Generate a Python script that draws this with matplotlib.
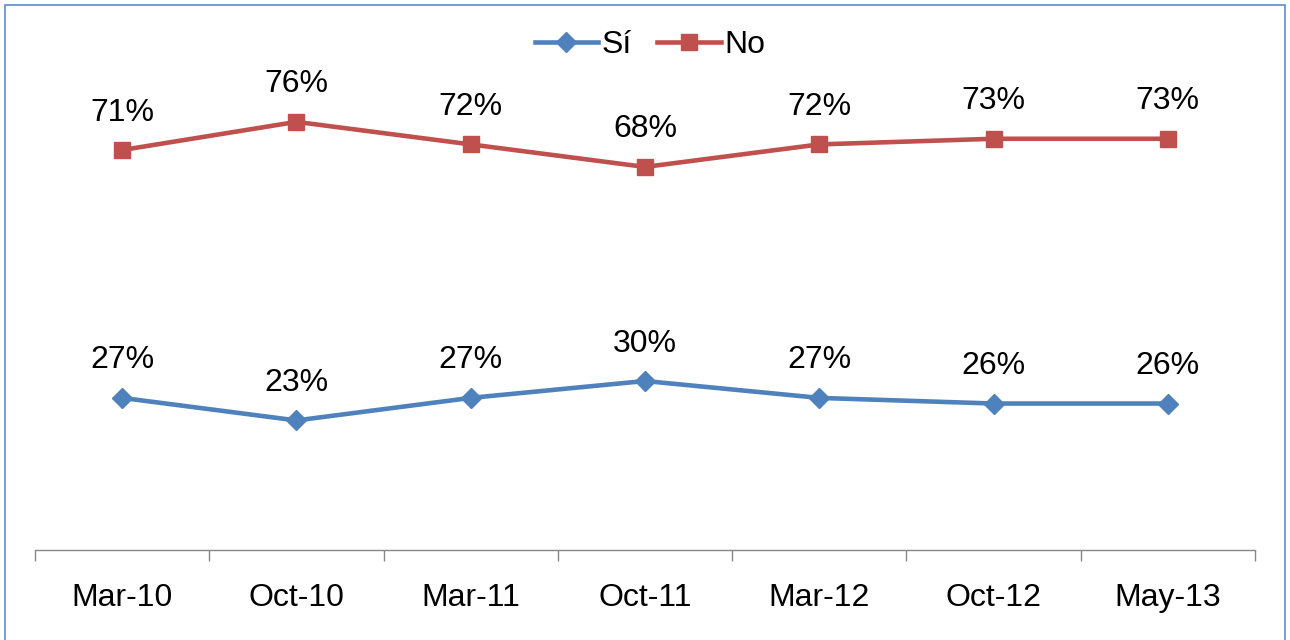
import matplotlib
matplotlib.use("Agg")
import matplotlib.pyplot as plt
from matplotlib.patches import Rectangle
from matplotlib.ticker import FixedLocator

plt.rcParams['font.family'] = ['Liberation Sans', 'DejaVu Sans']

# data
periods = ["Mar-10", "Oct-10", "Mar-11", "Oct-11", "Mar-12", "Oct-12", "May-13"]
si_values = [0.27, 0.23, 0.27, 0.30, 0.27, 0.26, 0.26]
no_values = [0.71, 0.76, 0.72, 0.68, 0.72, 0.73, 0.73]

blue = "#4F81BD"
red = "#C0504D"

fig = plt.figure(figsize=(12.9, 6.4), dpi=100)
W, H = 1290, 640
# axes placed in pixel terms: x axis from 35 to 1255, baseline at y=550
ax = fig.add_axes([35 / W, 90 / H, 1220 / W, 507 / H])

x = list(range(len(periods)))
ax.plot(x, si_values, color=blue, lw=3.3, marker="D", ms=10, label="Sí")
ax.plot(x, no_values, color=red, lw=3.3, marker="s", ms=12, label="No")

for xi, v in zip(x, si_values):
    ax.annotate(f"{round(v * 100)}%", (xi, v), xytext=(0, 27), textcoords="offset points",
                ha="center", va="center", fontsize=23)
for xi, v in zip(x, no_values):
    ax.annotate(f"{round(v * 100)}%", (xi, v), xytext=(0, 27), textcoords="offset points",
                ha="center", va="center", fontsize=23)

ax.set_xlim(-0.5, len(periods) - 0.5)
ax.set_ylim(0, 0.9)
ax.set_xticks(x)
ax.set_xticklabels(periods, fontsize=23)
ax.xaxis.set_minor_locator(FixedLocator([i - 0.5 for i in range(len(periods) + 1)]))
ax.tick_params(axis="x", which="major", length=0, pad=24)
ax.tick_params(axis="x", which="minor", length=8, width=1, color="#888888", direction="out")
ax.set_yticks([])
for side in ["left", "right", "top"]:
    ax.spines[side].set_visible(False)
ax.spines["bottom"].set_color("#888888")
ax.spines["bottom"].set_linewidth(1)

leg = fig.legend(loc="center", bbox_to_anchor=(650 / W, 1 - 45 / H), ncol=2, frameon=False,
                 fontsize=23, handlelength=2.0, handletextpad=0.1, columnspacing=0.8)

# outer blue frame, open at the bottom edge of the image
fig.patches.append(Rectangle((5 / W, -0.05), 1280 / W, 1.05 - 5 / H, transform=fig.transFigure,
                             fill=False, edgecolor="#5B8BD0", lw=1.2))

fig.savefig("out.png", dpi=100)
